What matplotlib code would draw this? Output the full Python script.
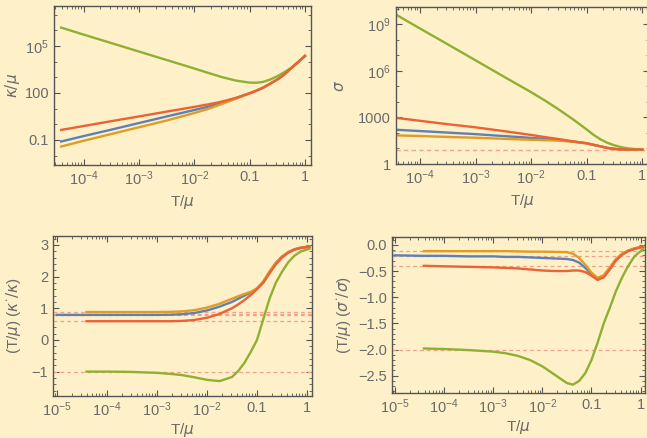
import numpy as np
import matplotlib
matplotlib.use("Agg")
import matplotlib.pyplot as plt
from matplotlib.ticker import FixedLocator, NullFormatter

plt.rcParams['font.family'] = ['Liberation Sans', 'DejaVu Sans']

# ---- data (log10 of T/mu on the x axis) ----
logT_top = [-4.41, -4, -3.5, -3, -2.5, -2, -1.75, -1.5, -1.25, -1,
            -0.875, -0.75, -0.625, -0.5, -0.375, -0.25, -0.125, 0.0]

# kappa/mu, stored as log10
kappa_blue = [-1.1, -0.75, -0.34, 0.08, 0.5, 0.91, 1.12, 1.4, 1.67, 1.98,
              2.15, 2.35, 2.6, 2.86, 3.17, 3.58, 3.96, 4.36]
kappa_orange = [-1.42, -1.05, -0.62, -0.19, 0.24, 0.72, 0.98, 1.3, 1.63, 1.97,
                2.14, 2.34, 2.59, 2.85, 3.16, 3.57, 3.96, 4.36]
kappa_green = [6.17, 5.72, 5.18, 4.64, 4.1, 3.56, 3.28, 3.01, 2.79, 2.66,
               2.65, 2.71, 2.86, 3.07, 3.32, 3.6, 3.97, 4.36]
kappa_red = [-0.36, -0.11, 0.2, 0.5, 0.81, 1.11, 1.27, 1.45, 1.68, 1.98,
             2.15, 2.35, 2.6, 2.86, 3.18, 3.58, 3.96, 4.36]

# sigma, stored as log10
sigma_blue = [2.2, 2.12, 2.02, 1.92, 1.8, 1.68, 1.62, 1.55, 1.45, 1.33,
              1.23, 1.13, 1.03, 0.97, 0.94, 0.93, 0.93, 0.93]
sigma_orange = [1.84, 1.8, 1.74, 1.69, 1.62, 1.56, 1.53, 1.5, 1.43, 1.33,
                1.23, 1.13, 1.03, 0.97, 0.94, 0.93, 0.93, 0.93]
sigma_green = [9.57, 8.72, 7.7, 6.67, 5.64, 4.62, 4.08, 3.5, 2.88, 2.22,
               1.87, 1.58, 1.36, 1.2, 1.08, 1.0, 0.96, 0.94]
sigma_red = [2.96, 2.78, 2.56, 2.36, 2.12, 1.87, 1.73, 1.6, 1.46, 1.33,
             1.23, 1.13, 1.03, 0.97, 0.94, 0.93, 0.93, 0.93]
sigma_ref = 0.92

logT_bot = [-4.41, -4, -3.5, -3, -2.75, -2.5, -2.25, -2, -1.75, -1.5, -1.375,
            -1.25, -1.125, -1, -0.875, -0.75, -0.625, -0.5, -0.375, -0.25,
            -0.125, 0.05]
logT_blue_start = -5.0

# (T/mu)(kappa'/kappa)
dk_blue = [0.79, 0.79, 0.79, 0.79, 0.79, 0.795, 0.81, 0.85, 0.93, 1.05, 1.2, 1.3,
           1.4, 1.5, 1.62, 1.84, 2.15, 2.43, 2.63, 2.77, 2.86, 2.91, 2.95]
dk_orange = [0.88, 0.88, 0.88, 0.88, 0.885, 0.9, 0.94, 1.02, 1.14, 1.3, 1.38,
             1.45, 1.52, 1.63, 1.84, 2.15, 2.43, 2.63, 2.77, 2.86, 2.91, 2.95]
dk_green = [-1.0, -1.0, -1.01, -1.04, -1.07, -1.11, -1.18, -1.26, -1.3, -1.17,
            -0.98, -0.72, -0.38, 0.0, 0.65, 1.3, 1.8, 2.15, 2.45, 2.66, 2.79, 2.88]
dk_red = [0.59, 0.59, 0.59, 0.59, 0.59, 0.6, 0.63, 0.7, 0.82, 1.0, 1.12, 1.26,
          1.42, 1.6, 1.8, 2.1, 2.38, 2.6, 2.75, 2.85, 2.9, 2.94]
dk_refs = [0.89, 0.83, 0.78, 0.6, -1.0]

# (T/mu)(sigma'/sigma)
ds_blue = [-0.2, -0.21, -0.21, -0.22, -0.22, -0.23, -0.23, -0.24, -0.25, -0.26,
           -0.27, -0.29, -0.34, -0.44, -0.56, -0.65, -0.59, -0.44, -0.28, -0.17,
           -0.11, -0.07, -0.03]
ds_orange = [-0.12, -0.12, -0.12, -0.12, -0.12, -0.125, -0.13, -0.13, -0.135,
             -0.14, -0.17, -0.25, -0.38, -0.53, -0.63, -0.58, -0.43, -0.27,
             -0.17, -0.11, -0.07, -0.03]
ds_green = [-1.98, -1.99, -2.01, -2.04, -2.07, -2.12, -2.2, -2.32, -2.48, -2.64,
            -2.67, -2.6, -2.45, -2.2, -1.87, -1.5, -1.2, -0.88, -0.62, -0.4,
            -0.22, -0.08]
ds_red = [-0.4, -0.41, -0.42, -0.43, -0.44, -0.45, -0.47, -0.49, -0.5, -0.5,
          -0.49, -0.49, -0.52, -0.59, -0.67, -0.62, -0.47, -0.3, -0.19, -0.12,
          -0.08, -0.04]
ds_refs = [-0.12, -0.21, -0.4, -2.0]

BLUE, ORANGE, GREEN, RED = '#5E81B5', '#E19C24', '#8FB032', '#EB6235'
BG = '#FEF0C8'
FRAME = '#555555'
TXT = '#6a6a6a'
DASH = '#F4A08A'

fig = plt.figure(figsize=(6.47, 4.38), dpi=100, facecolor=BG)
W, H = 647, 438


def make_ax(l, r, t, b):
    return fig.add_axes([l / W, 1 - b / H, (r - l) / W, (b - t) / H], facecolor=BG)


def style(ax, xmin, xmax, xmajor, xlabels, pad=3):
    ax.set_xscale('log')
    ax.set_xlim(10 ** xmin, 10 ** xmax)
    ax.xaxis.set_major_locator(FixedLocator(xmajor))
    ax.set_xticklabels(xlabels)
    minors = [m * 10.0 ** e for e in range(-6, 1) for m in range(2, 10)]
    ax.xaxis.set_minor_locator(FixedLocator(minors))
    ax.xaxis.set_minor_formatter(NullFormatter())
    ax.tick_params(which='both', direction='in', top=True, right=True,
                   colors=FRAME, labelcolor=TXT, labelsize=10.5)
    ax.tick_params(which='major', length=4, width=0.8)
    ax.tick_params(which='minor', length=2, width=0.6)
    for s in ax.spines.values():
        s.set_color(FRAME)
        s.set_linewidth(1.0)
    ax.set_xlabel('T/$\\mu$', color=TXT, fontsize=11, labelpad=pad)


lw = 1.7
xt_top = [1e-4, 1e-3, 1e-2, 0.1, 1]
xl_top = ['$\\mathregular{10^{-4}}$', '$\\mathregular{10^{-3}}$',
          '$\\mathregular{10^{-2}}$', '0.1', '1']
xt_bot = [1e-5] + xt_top
xl_bot = ['$\\mathregular{10^{-5}}$'] + xl_top

Tt = 10 ** np.array(logT_top)
Tb = 10 ** np.array(logT_bot)
Tb_blue = 10 ** np.array([logT_blue_start] + logT_bot)

# top left: kappa/mu
ax1 = make_ax(54, 311, 6, 165)
ax1.set_yscale('log')
for y, c in [(kappa_blue, BLUE), (kappa_orange, ORANGE), (kappa_green, GREEN), (kappa_red, RED)]:
    ax1.plot(Tt, 10 ** np.array(y), color=c, lw=lw)
style(ax1, -4.54, 0.11, xt_top, xl_top)
ax1.set_ylim(10 ** -2.6, 10 ** 7.55)
ax1.yaxis.set_major_locator(FixedLocator([0.1, 100, 1e5]))
ax1.set_yticklabels(['0.1', '100', '$\\mathregular{10^5}$'])
ax1.yaxis.set_minor_locator(FixedLocator([10.0 ** e for e in range(-2, 8)]))
ax1.yaxis.set_minor_formatter(NullFormatter())
ax1.set_ylabel('$\\kappa/\\mu$', color=TXT, fontsize=11, labelpad=2)

# top right: sigma
ax2 = make_ax(396, 649, 7, 164)
ax2.set_yscale('log')
ax2.axhline(10 ** sigma_ref, color=DASH, lw=1.0, ls=(0, (3, 2.5)))
for y, c in [(sigma_blue, BLUE), (sigma_orange, ORANGE), (sigma_green, GREEN), (sigma_red, RED)]:
    ax2.plot(Tt, 10 ** np.array(y), color=c, lw=lw)
style(ax2, -4.43, 0.12, xt_top, xl_top)
ax2.set_ylim(1, 10 ** 10.1)
ax2.yaxis.set_major_locator(FixedLocator([1, 1000, 1e6, 1e9]))
ax2.set_yticklabels(['1', '1000', '$\\mathregular{10^6}$', '$\\mathregular{10^9}$'])
ax2.yaxis.set_minor_locator(FixedLocator([10.0 ** e for e in range(0, 11)]))
ax2.yaxis.set_minor_formatter(NullFormatter())
ax2.set_ylabel('$\\sigma$', color=TXT, fontsize=11, labelpad=8)

# bottom left: (T/mu)(kappa'/kappa)
ax3 = make_ax(53, 312, 236, 396)
for r in dk_refs:
    ax3.axhline(r, color=DASH, lw=0.9, ls=(0, (3, 2.5)))
ax3.plot(Tb_blue, dk_blue, color=BLUE, lw=lw)
ax3.plot(Tb, dk_orange, color=ORANGE, lw=lw)
ax3.plot(Tb, dk_green, color=GREEN, lw=lw)
ax3.plot(Tb, dk_red, color=RED, lw=lw)
style(ax3, -5.08, 0.1, xt_bot, xl_bot, pad=1)
ax3.set_ylim(-1.77, 3.28)
ax3.yaxis.set_major_locator(FixedLocator([-1, 0, 1, 2, 3]))
ax3.set_yticklabels(['\u22121', '0', '1', '2', '3'])
ax3.yaxis.set_minor_locator(FixedLocator(np.arange(-1.6, 3.3, 0.2)))
ax3.set_ylabel('(T/$\\mu$) ($\\kappa^{\\cdot}/\\kappa$)', color=TXT, fontsize=11, labelpad=6)

# bottom right: (T/mu)(sigma'/sigma)
ax4 = make_ax(392, 645, 237, 393)
for r in ds_refs:
    ax4.axhline(r, color=DASH, lw=0.9, ls=(0, (3, 2.5)))
ax4.plot(Tb_blue, ds_blue, color=BLUE, lw=lw)
ax4.plot(Tb, ds_orange, color=ORANGE, lw=lw)
ax4.plot(Tb, ds_green, color=GREEN, lw=lw)
ax4.plot(Tb, ds_red, color=RED, lw=lw)
style(ax4, -5.06, 0.09, xt_bot, xl_bot, pad=1)
ax4.set_ylim(-2.83, 0.15)
ax4.yaxis.set_major_locator(FixedLocator([-2.5, -2.0, -1.5, -1.0, -0.5, 0.0]))
ax4.set_yticklabels(['\u22122.5', '\u22122.0', '\u22121.5', '\u22121.0', '\u22120.5', '0.0'])
ax4.yaxis.set_minor_locator(FixedLocator(np.arange(-2.8, 0.15, 0.1)))
ax4.set_ylabel('(T/$\\mu$) ($\\sigma^{\\cdot}/\\sigma$)', color=TXT, fontsize=11, labelpad=4)

fig.savefig('out.png', dpi=100, facecolor=BG)
